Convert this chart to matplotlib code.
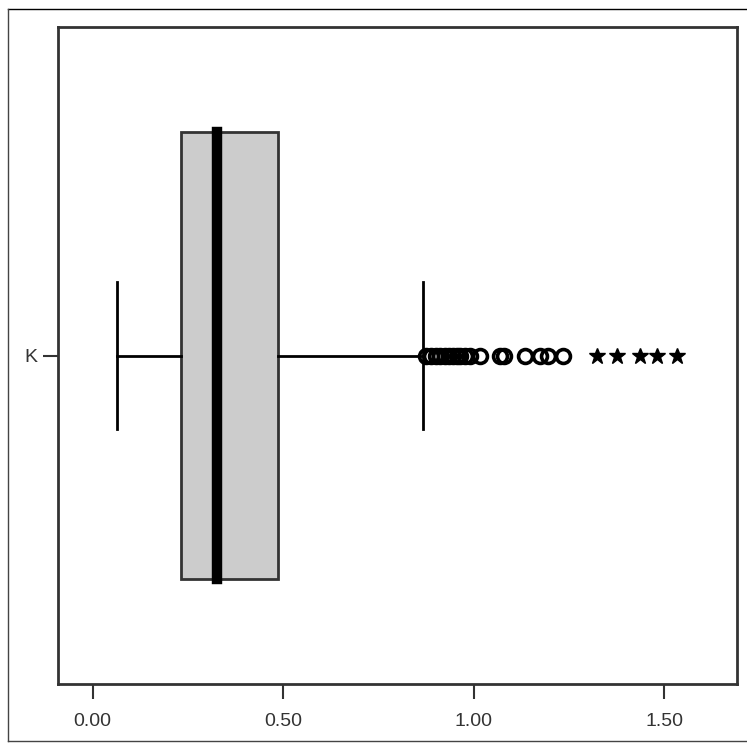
import matplotlib
matplotlib.use("Agg")
import matplotlib.pyplot as plt
from matplotlib.lines import Line2D

# values
label = "K"
whislo = 0.064
q1 = 0.232
med = 0.326
q3 = 0.486
whishi = 0.866
outliers = [0.875, 0.888, 0.9, 0.912, 0.924, 0.935, 0.945, 0.955, 0.965, 0.978,
            0.99, 1.017, 1.068, 1.08, 1.135, 1.174, 1.195, 1.235]
extremes = [1.324, 1.377, 1.437, 1.481, 1.534]
xticks = [0.0, 0.5, 1.0, 1.5]
xticklabels = ["0.00", "0.50", "1.00", "1.50"]

plt.rcParams['font.family'] = ['Liberation Sans', 'DejaVu Sans']

W, H = 747, 750
fig = plt.figure(figsize=(W / 100, H / 100), dpi=100)
ax = fig.add_axes([58 / W, 1 - 684 / H, (737 - 58) / W, (684 - 27) / H])

stats = [dict(label=label, whislo=whislo, q1=q1, med=med, q3=q3,
              whishi=whishi, fliers=[])]
ax.bxp(stats, positions=[1], orientation='horizontal', widths=0.68,
       capwidths=0.224, patch_artist=True, showfliers=False,
       boxprops=dict(facecolor='#cccccc', edgecolor='#333333', linewidth=2),
       medianprops=dict(color='black', linewidth=7.5, solid_capstyle='projecting'),
       whiskerprops=dict(color='black', linewidth=2),
       capprops=dict(color='black', linewidth=2))

# outliers (circles) and extreme values (stars)
ax.plot(outliers, [1] * len(outliers), linestyle='none', marker='o',
        markersize=10, markerfacecolor='none', markeredgecolor='black',
        markeredgewidth=2.6)
ax.plot(extremes, [1] * len(extremes), linestyle='none', marker='*',
        markersize=12, color='black')

ax.set_xlim(-0.091, 1.691)
ax.set_ylim(0.5, 1.5)
ax.set_xticks(xticks)
ax.set_xticklabels(xticklabels)
ax.set_yticks([1])
ax.set_yticklabels([label])
ax.tick_params(direction='out', length=11, width=1.5, colors='#333333',
               labelsize=14, labelcolor='#333333', pad=10)
ax.tick_params(axis='y', pad=4)
for s in ax.spines.values():
    s.set_linewidth(2)
    s.set_color('#333333')

# outer frame around the figure
fig.add_artist(Line2D([7.5 / W, 747 / W], [1 - 8.5 / H, 1 - 8.5 / H],
                      transform=fig.transFigure, color='black', linewidth=1))
fig.add_artist(Line2D([7.5 / W, 7.5 / W], [1 - 8.5 / H, 1 - 741 / H],
                      transform=fig.transFigure, color='#444444', linewidth=1))
fig.add_artist(Line2D([7.5 / W, 747 / W], [1 - 741 / H, 1 - 741 / H],
                      transform=fig.transFigure, color='#444444', linewidth=1))

fig.savefig("out.png", dpi=100)
